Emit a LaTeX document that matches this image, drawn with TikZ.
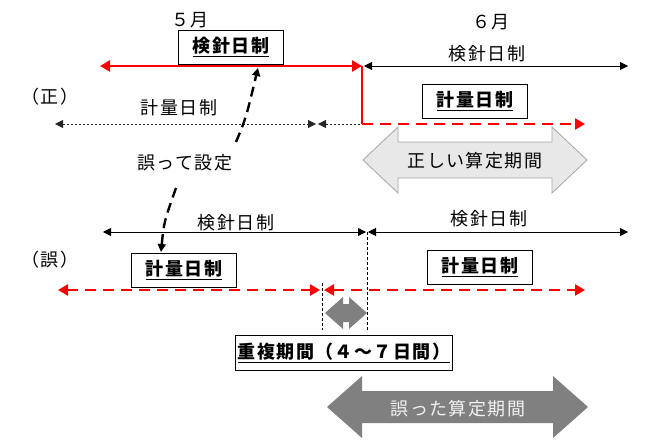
\documentclass[tikz,border=0pt]{standalone}
\usepackage{fontspec}
\setmainfont{Noto Sans CJK JP}[LetterSpace=8]
\usepackage{xcolor}
\usepackage{tikz}
\usetikzlibrary{arrows.meta}

\definecolor{pale}{HTML}{E8E8E8}
\definecolor{paleedge}{HTML}{A6A6A6}
\definecolor{slate}{HTML}{808080}

\tikzset{
    smalltip/.tip={Triangle[length=8pt,width=8pt]},
    bigtip/.tip={Triangle[length=10pt,width=11pt]}
}

% double block arrow: style, left tip, right tip, centre y, shaft half, head half, head length
\newcommand{\dblarrow}[7]{%
  \path[#1] (#2,#4) -- (#2+#7,#4-#6) -- (#2+#7,#4-#5) -- (#3-#7,#4-#5)
    -- (#3-#7,#4-#6) -- (#3,#4) -- (#3-#7,#4+#6) -- (#3-#7,#4+#5)
    -- (#2+#7,#4+#5) -- (#2+#7,#4+#6) -- cycle;}

\begin{document}
\begin{tikzpicture}[x=1pt,y=-1pt,
    lbl/.style={font=\fontsize{18}{20}\selectfont, inner sep=0pt},
    tag/.style={draw=black, fill=white, line width=0.8pt, inner sep=0pt,
        minimum width=105pt, minimum height=34pt,
        font=\fontsize{18}{20}\selectfont\bfseries},
    redsolid/.style={red, line width=2.6pt},
    reddash/.style={red, line width=2.6pt, dash pattern=on 11pt off 7pt},
    span/.style={black, line width=0.8pt},
    dotspan/.style={black!85, line width=0.8pt, dash pattern=on 2.5pt off 1.5pt},
    guide/.style={black, line width=0.7pt, dash pattern=on 3pt off 2pt},
    pointer/.style={black, line width=2.4pt, dash pattern=on 10pt off 6pt, -{smalltip}}]

    \useasboundingbox (0,0) rectangle (650,444);

    % End points
    \foreach \n/\x/\y in {rA/100/66, rB/362/66, rC/362/124, rD/585/124,
                          kA/364/66, kB/628/66,
                          gA/55/124, gB/316/124, gC/318/124, gD/362/124,
                          lA/103/232, lB/366/232, lC/368/232, lD/628/232,
                          eA/58/290, eB/320/290, eC/324/290, eD/585/290,
                          vA/322/283, vB/322/330, vC/367/232, vD/367/330,
                          pA/236/142, pB/258/68, qA/176/188, qB/161/252} {
        \coordinate (\n) at (\x,\y);
    }

    % Grey block arrows
    \dblarrow{fill=pale, draw=paleedge, line width=0.8pt}{363}{587}{160}{18}{33}{35}
    \dblarrow{fill=slate}{325}{367}{313}{9}{16}{18}
    \dblarrow{fill=slate}{327}{588}{407}{16}{31}{35}
    \node[lbl] (right) at (475,161) {正しい算定期間};
    \node[lbl, text=white!95!black] (wrong) at (458,409) {誤った算定期間};

    % Month labels
    \node[lbl] (may) at (190,20) {５月};
    \node[lbl] (june) at (491,22) {６月};
    \node[lbl] (ok) at (50,97) {（正）};
    \node[lbl] (ng) at (50,260) {（誤）};

    % Plain labels
    \node[lbl] (kenA) at (487,54) {検針日制};
    \node[lbl] (keiA) at (179,108) {計量日制};
    \node[lbl] (mist) at (185,163) {誤って設定};
    \node[lbl] (kenB) at (236,223) {検針日制};
    \node[lbl] (kenC) at (489,219) {検針日制};

    % Boxed labels
    \node[tag] (kenBox) at (231,47) {\underline{検針日制}};
    \node[tag] (keiBoxA) at (475,101) {\underline{計量日制}};
    \node[tag] (keiBoxB) at (184,270) {\underline{計量日制}};
    \node[tag] (keiBoxC) at (480,267) {\underline{計量日制}};
    \node[tag, minimum width=217pt, minimum height=35pt] (dup) at (344,353)
        {\underline{重複期間（４～７日間）}};

    % (正) lines
    \draw[span, {smalltip}-{smalltip}] (kA) -- (kB);
    \draw[dotspan, {smalltip}-{smalltip}] (gA) -- (gB);
    \draw[dotspan, {smalltip}-] (gC) -- (gD);
    \draw[redsolid, {bigtip}-{bigtip}] (rA) -- (rB);
    \draw[redsolid] (rB) -- (rC);
    \draw[reddash, -{bigtip}] (rC) -- (rD);

    % (誤) lines
    \draw[span, {smalltip}-{smalltip}] (lA) -- (lB);
    \draw[span, {smalltip}-{smalltip}] (lC) -- (lD);
    \draw[guide] (vA) -- (vB);
    \draw[guide] (vC) -- (vD);
    \draw[reddash, {bigtip}-{bigtip}] (eA) -- (eB);
    \draw[reddash, {bigtip}-{bigtip}] (eC) -- (eD);

    % Wrong setting pointers
    \draw[pointer] (pA) .. controls (246,118) .. (pB);
    \draw[pointer] (qA) .. controls (164,222) .. (qB);

\end{tikzpicture}
\end{document}
